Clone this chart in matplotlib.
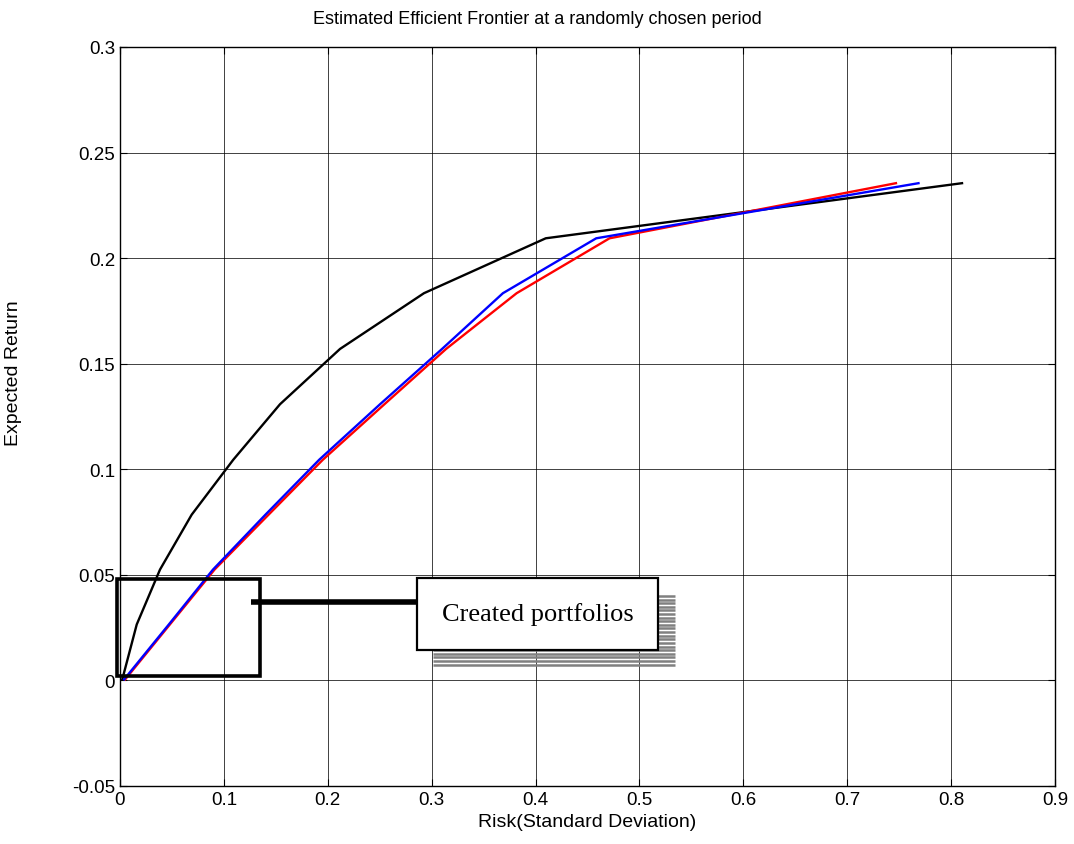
import numpy as np
import matplotlib

matplotlib.use("Agg")
import matplotlib.pyplot as plt
from matplotlib.patches import Rectangle

# target returns shared by the three frontiers
returns = [0.0005, 0.0265, 0.0525, 0.0785, 0.1045, 0.1308, 0.1570, 0.1834, 0.2094, 0.2355]

# risk (std dev) of each frontier at those returns
risk_black = [0.0022, 0.0161, 0.0385, 0.0690, 0.1090, 0.1540, 0.2118, 0.2926, 0.4098, 0.8105]
risk_blue = [0.0040, 0.0470, 0.0895, 0.1400, 0.1917, 0.2503, 0.3100, 0.3686, 0.4584, 0.7686]
risk_red = [0.0050, 0.0480, 0.0910, 0.1430, 0.1952, 0.2545, 0.3139, 0.3818, 0.4712, 0.7469]

xticks = [0, 0.1, 0.2, 0.3, 0.4, 0.5, 0.6, 0.7, 0.8, 0.9]
yticks = [-0.05, 0, 0.05, 0.1, 0.15, 0.2, 0.25, 0.3]
xtick_labels = ["0", "0.1", "0.2", "0.3", "0.4", "0.5", "0.6", "0.7", "0.8", "0.9"]
ytick_labels = ["-0.05", "0", "0.05", "0.1", "0.15", "0.2", "0.25", "0.3"]

sans = ["Liberation Sans Narrow", "Liberation Sans", "DejaVu Sans"]

fig = plt.figure(figsize=(10.74, 8.45), dpi=100)
ax = fig.add_axes([120 / 1074, 1 - 787 / 845, 935 / 1074, 739 / 845])

ax.plot(risk_black, returns, color="black", linewidth=1.7, zorder=3)
ax.plot(risk_red, returns, color="red", linewidth=1.7, zorder=3)
ax.plot(risk_blue, returns, color="blue", linewidth=1.7, zorder=4)

ax.set_xlim(0, 0.9)
ax.set_ylim(-0.05, 0.3)
ax.set_xticks(xticks)
ax.set_yticks(yticks)
ax.set_xticklabels(xtick_labels, family="Liberation Sans", fontsize=13.5)
ax.set_yticklabels(ytick_labels, family="Liberation Sans", fontsize=13.5)
ax.tick_params(direction="in", top=True, right=True, length=5, width=0.8)
ax.grid(True, color="black", linewidth=0.7, alpha=0.75)
ax.set_axisbelow(True)
for s in ax.spines.values():
    s.set_linewidth(1.0)

# box around the low-risk portfolios and its connector
ax.add_patch(Rectangle((-0.0026, 0.0019), 0.1374, 0.0461, fill=False,
                       edgecolor="black", linewidth=2.6, clip_on=False, zorder=5))
ax.plot([0.1258, 0.2859], [0.0373, 0.0373], color="black", linewidth=4, zorder=5,
        solid_capstyle="butt")

# striped shadow behind the label box
for yy in np.linspace(0.0075, 0.0400, 20):
    ax.plot([0.3013, 0.5342], [yy, yy], color="#808080", linewidth=1.8, zorder=5,
            solid_capstyle="butt")
ax.add_patch(Rectangle((0.2859, 0.0144), 0.2319, 0.0339, facecolor="white",
                       edgecolor="black", linewidth=1.6, zorder=6))
ax.text(0.402, 0.0318, "Created portfolios", family="Liberation Serif", fontsize=19,
        ha="center", va="center", zorder=7)

fig.text(0.5, 1 - 20 / 845, "Estimated Efficient Frontier at a randomly chosen period",
         family=sans, fontsize=13, ha="center", va="center")
ax.set_xlabel("Risk(Standard Deviation)", family=sans, fontsize=14, labelpad=4)
ax.set_ylabel("Expected Return", family=sans, fontsize=14)
ax.yaxis.set_label_coords(-0.105, 0.56)

fig.savefig("out.png", dpi=100)
